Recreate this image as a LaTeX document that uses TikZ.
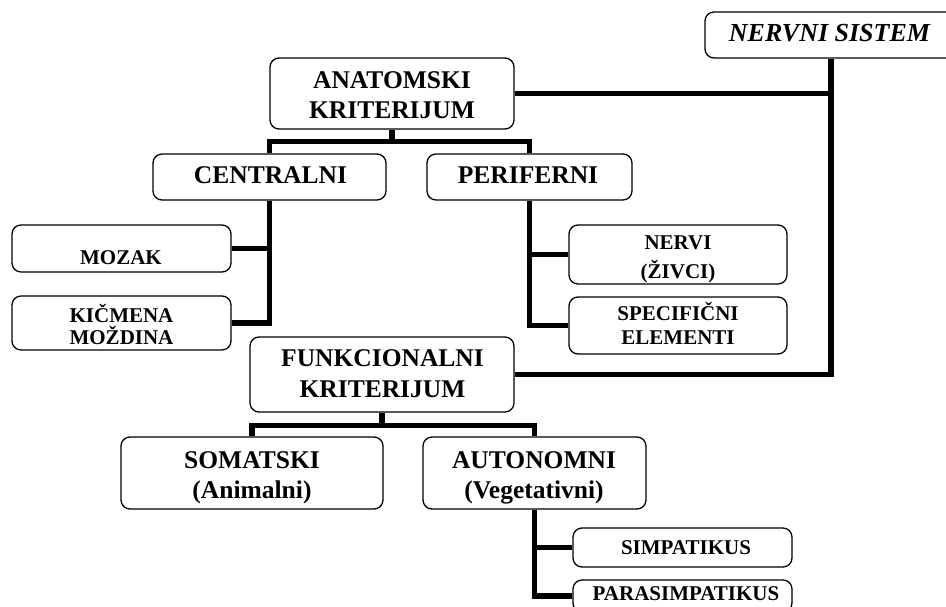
\documentclass[tikz,border=0pt]{standalone}
\usepackage{fontspec}
\setmainfont{Liberation Serif}
\begin{document}
\begin{tikzpicture}[x=1pt,y=-1pt,
  box/.style={draw, rectangle, rounded corners=9pt, line width=1.3pt, fill=white, inner sep=0pt},
  big/.style={anchor=base, inner sep=0pt, font=\fontsize{25.5}{30}\selectfont\bfseries},
  small/.style={anchor=base, inner sep=0pt, font=\fontsize{21}{24}\selectfont\bfseries},
  conn/.style={line width=5.5pt, line join=miter}]
\useasboundingbox (0,0) rectangle (946,607);
\clip (0,0) rectangle (946,607);

% boxes
\node[box, minimum width=252pt, minimum height=46pt] (ns)   at (831,35)    {};
\node[box, minimum width=244pt, minimum height=71pt] (anat) at (392,93.5)  {};
\node[box, minimum width=233pt, minimum height=46pt] (cen)  at (269.5,177) {};
\node[box, minimum width=205pt, minimum height=46pt] (per)  at (529.5,177) {};
\node[box, minimum width=219pt, minimum height=47pt] (moz)  at (121.5,248.5) {};
\node[box, minimum width=219pt, minimum height=54pt] (kic)  at (121.5,323) {};
\node[box, minimum width=218pt, minimum height=59pt] (nerv) at (678,254.5) {};
\node[box, minimum width=218pt, minimum height=57pt] (spec) at (678,325.5) {};
\node[box, minimum width=264pt, minimum height=75pt] (fun)  at (382,374.5) {};
\node[box, minimum width=262pt, minimum height=72pt] (som)  at (252,473)   {};
\node[box, minimum width=223pt, minimum height=72pt] (aut)  at (534.5,473) {};
\node[box, minimum width=219pt, minimum height=39pt] (simp) at (682.5,547.5) {};
\node[box, minimum width=219pt, minimum height=32pt] (para) at (682.5,596) {};

% labels
\node[big, font=\fontsize{26}{30}\selectfont\bfseries\itshape] (tns) at (829.5,41.6) {NERVNI SISTEM};
\node[big] (tanat1) at (392,88.4)  {ANATOMSKI};
\node[big] (tanat2) at (392,118.4) {KRITERIJUM};
\node[big] (tcen)   at (270.5,183.4) {CENTRALNI};
\node[big] (tper)   at (528,183.4) {PERIFERNI};
\node[small] (tmoz)  at (121,265)   {MOZAK};
\node[small] (tkic1) at (121.5,322) {KIČMENA};
\node[small] (tkic2) at (121.5,344.5) {MOŽDINA};
\node[small] (tnerv1) at (678,250)  {NERVI};
\node[small] (tnerv2) at (678,278.5) {(ŽIVCI)};
\node[small] (tspec1) at (678,320)  {SPECIFIČNI};
\node[small] (tspec2) at (678,344.5) {ELEMENTI};
\node[big] (tfun1) at (382.5,366.4) {FUNKCIONALNI};
\node[big] (tfun2) at (382.5,397.4) {KRITERIJUM};
\node[big] (tsom1) at (252,468.4) {SOMATSKI};
\node[big] (tsom2) at (252,498.4) {(Animalni)};
\node[big] (taut1) at (534,468.4) {AUTONOMNI};
\node[big] (taut2) at (534,498.4) {(Vegetativni)};
\node[small] (tsimp) at (686,554)   {SIMPATIKUS};
\node[small] (tpara) at (686,600.5) {PARASIMPATIKUS};

% connectors
\draw[conn] (ns.south) |- (fun.east);
\draw[conn] (anat.east) -- (anat.east -| ns.south);
\draw[conn] (anat.south) -- ++(0,13);
\draw[conn] (cen.north) -- ++(0,-12) -| (per.north);
\draw[conn] (cen.south) |- (kic.east);
\draw[conn] (moz.east) -- (moz.east -| cen.south);
\draw[conn] (per.south) |- (spec.west);
\draw[conn] (nerv.west) -- (nerv.west -| per.south);
\draw[conn] (fun.south) -- ++(0,14);
\draw[conn] (som.north) -- ++(0,-11) -| (aut.north);
\draw[conn] (aut.south) |- (para.west);
\draw[conn] (simp.west) -- (simp.west -| aut.south);
\end{tikzpicture}
\end{document}
